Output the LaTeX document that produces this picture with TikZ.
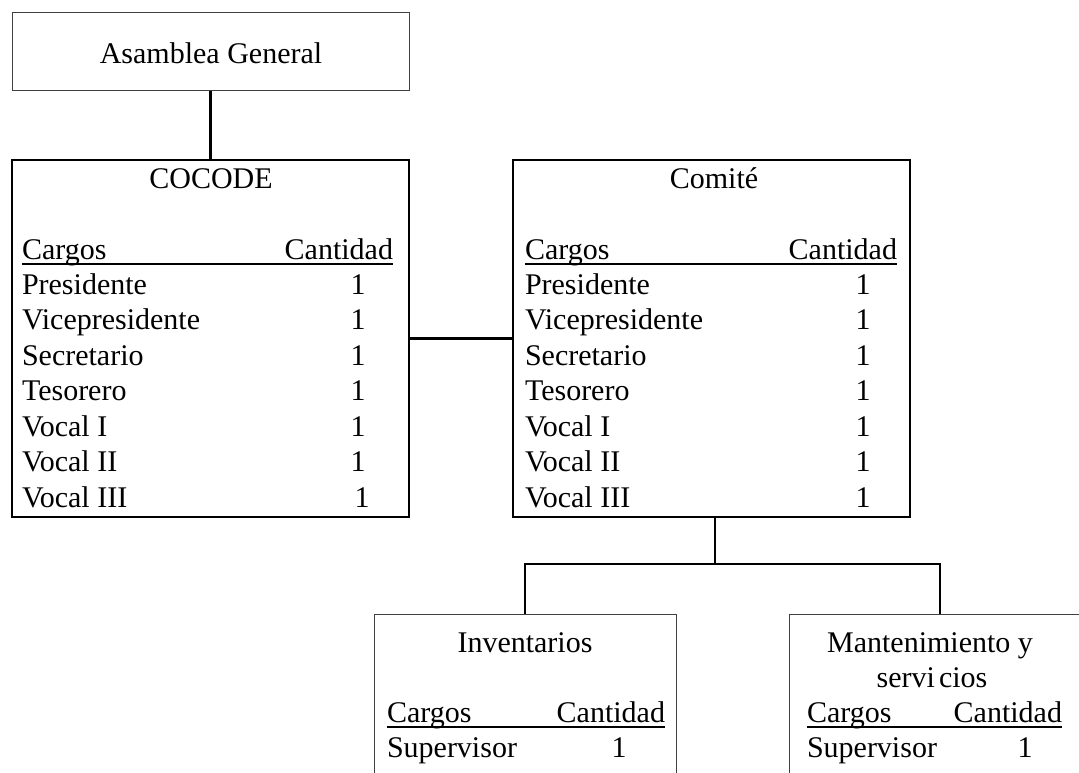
\documentclass[tikz,border=0pt]{standalone}
\usepackage{fontspec}
\setmainfont{Liberation Serif}
\begin{document}
\begin{tikzpicture}[x=1pt,y=-1pt,
  mainbox/.style={draw, line width=1.8pt, rectangle, inner sep=0pt, outer sep=0pt, minimum width=397pt, minimum height=357pt, anchor=north west},
  litebox/.style={draw=black!75, line width=1pt, rectangle, inner sep=0pt, outer sep=0pt, anchor=north west},
  txt/.style={inner sep=0pt, outer sep=0pt, font=\fontsize{30}{35}\selectfont},
  link/.style={line width=2.4pt},
  uline/.style={line width=1.4pt}]
\clip (0,0) rectangle (1079,773);
\fill[white] (0,0) rectangle (1079,773);

% boxes
\node[litebox, minimum width=397pt, minimum height=78pt] (asam) at (12,13) {};
\node[mainbox] (cocode) at (12,160) {};
\node[mainbox] (comite) at (513,160) {};
\node[litebox, minimum width=302pt, minimum height=200pt] (inv) at (374,614) {};
\node[litebox, minimum width=302pt, minimum height=200pt] (mant) at (789,614) {};

% titles
\node[txt, anchor=base] (asamt) at (211,64) {Asamblea General};
\node[txt, anchor=base] (cocodet) at (211,189) {COCODE};
\node[txt, anchor=base] (comitet) at (714,189) {Comité};
\node[txt, anchor=base] (invt) at (525,652) {Inventarios};
\node[txt, anchor=base] (mantt1) at (930,652) {Mantenimiento y};
\node[txt, anchor=base] (mantt2) at (932,687) {servi\kern4pt cios};

% headers
\node[txt, anchor=base west] (cgA) at (22,259) {Cargos};
\node[txt, anchor=base east] (caA) at (393,259) {Cantidad};
\node[txt, anchor=base west] (cgB) at (525,259) {Cargos};
\node[txt, anchor=base east] (caB) at (897,259) {Cantidad};
\node[txt, anchor=base west] (cgC) at (387,722) {Cargos};
\node[txt, anchor=base east] (caC) at (665,722) {Cantidad};
\node[txt, anchor=base west] (cgD) at (807,722) {Cargos};
\node[txt, anchor=base east] (caD) at (1062,722) {Cantidad};

\draw[uline] ([yshift=-5pt]cgA.base west) -- ([yshift=-5pt]caA.base east);
\draw[uline] ([yshift=-5pt]cgB.base west) -- ([yshift=-5pt]caB.base east);
\draw[uline] ([yshift=-5pt]cgC.base west) -- ([yshift=-5pt]caC.base east);
\draw[uline] ([yshift=-5pt]cgD.base west) -- ([yshift=-5pt]caD.base east);

% rows
\foreach \t/\nx [count=\i] in {Presidente/358,Vicepresidente/358,Secretario/358,Tesorero/358,Vocal I/358,Vocal II/358,Vocal III/362}{
  \node[txt, anchor=base west] (ra\i) at (22,{294+35.5*(\i-1)}) {\t};
  \node[txt, anchor=base] (na\i) at (\nx,{294+35.5*(\i-1)}) {1};
  \node[txt, anchor=base west] (rb\i) at (525,{294+35.5*(\i-1)}) {\t};
  \node[txt, anchor=base] (nb\i) at (863,{294+35.5*(\i-1)}) {1};
}
\node[txt, anchor=base west] (rc1) at (387,757) {Supervisor};
\node[txt, anchor=base] (nc1) at (619,757) {1};
\node[txt, anchor=base west] (rd1) at (807,757) {Supervisor};
\node[txt, anchor=base] (nd1) at (1025,757) {1};

% connectors
\draw[link] (asam.south) -- (cocode.north);
\draw[link] (cocode.east) -- (comite.west);
\coordinate (bus) at (715,564);
\draw[link] (comite.south -| bus) -- (bus);
\draw[link] (inv.north) -- (inv.north |- bus) -- (mant.north |- bus) -- (mant.north);
\end{tikzpicture}
\end{document}
